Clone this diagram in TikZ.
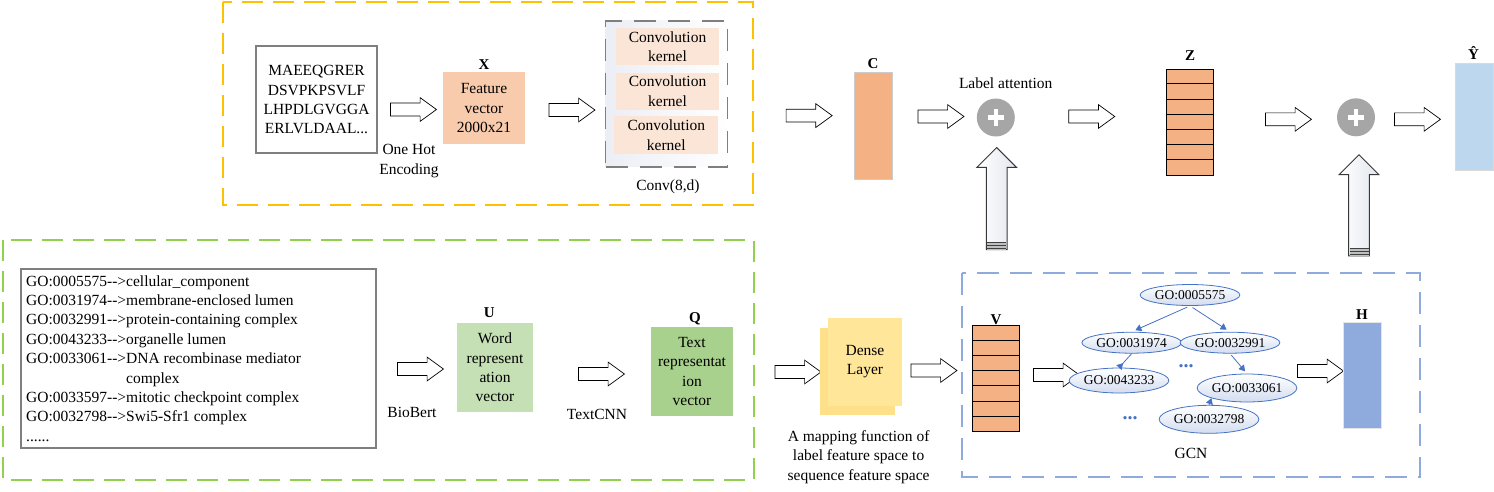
\documentclass[tikz,border=0pt]{standalone}
\usepackage{fontspec}
\setmainfont{Liberation Serif}
\usetikzlibrary{shapes.arrows,shapes.geometric,arrows.meta,calc}
\definecolor{ygold}{HTML}{FFC000}
\definecolor{ggreen}{HTML}{92D050}
\definecolor{bdash}{HTML}{8FAADC}
\definecolor{peach}{HTML}{F8CBAD}
\definecolor{kern}{HTML}{FBE5D6}
\definecolor{orng}{HTML}{F4B183}
\definecolor{lblue}{HTML}{BDD7EE}
\definecolor{mblue}{HTML}{8FAADC}
\definecolor{lgreen}{HTML}{C5E0B4}
\definecolor{mgreen}{HTML}{A9D18E}
\definecolor{dyel}{HTML}{FFE699}
\definecolor{dyelb}{HTML}{FFE08A}
\definecolor{gblue}{HTML}{4472C4}
\definecolor{pgray}{HTML}{A6A6A6}
\definecolor{boxgray}{HTML}{7F7F7F}
\definecolor{shaftr}{HTML}{E2E6EF}
\definecolor{convl}{HTML}{ECEEF5}
\definecolor{ellb}{HTML}{D3DDF0}
\newcommand{\goarr}{-{}-{}>}
\begin{document}
\begin{tikzpicture}[x=1pt,y=-1pt,
  every node/.style={inner sep=0pt, font=\fontsize{15.5}{19.4}\selectfont},
  lbl/.style={font=\bfseries\fontsize{15}{15}\selectfont},
  frame/.style={line width=1.8pt, dash pattern=on 21pt off 10pt},
  harrow/.style={single arrow, draw=black, line width=0.7pt, fill=white, inner sep=6.1pt,
    minimum height=46, minimum width=23, single arrow head extend=5.4,
    single arrow tip angle=72},
  varrow/.style={single arrow, shape border rotate=90, draw=black!78, line width=1pt,
    left color=white, right color=shaftr, inner sep=9.8pt,
    minimum height=101, minimum width=39, single arrow head extend=9.5,
    single arrow tip angle=90},
  plusc/.style={circle, fill=pgray, minimum size=38},
  gonode/.style={ellipse, draw=gblue, line width=0.8pt, top color=white, bottom color=ellb,
    font=\fontsize{13.5}{13.5}\selectfont},
  gedge/.style={draw=gblue, line width=0.8pt, -{Triangle[length=6pt,width=7pt]}},
  gline/.style={anchor=base west}
]
\useasboundingbox (0,0) rectangle (1494,491);

% ---------- frames ----------
\draw[frame, ygold] (223,2) rectangle (753,205);
\draw[frame, ggreen] (3,240) rectangle (754,480);
\draw[frame, bdash, dash pattern=on 22pt off 11pt] (962,273) rectangle (1420,477);

% ---------- top row ----------
\node[draw=boxgray, line width=1.8pt, minimum width=121, minimum height=107, align=center]
  (seq) at (316.5,99.7) {MAEEQGRER\\DSVPKPSVLF\\LHPDLGVGGA\\ERLVLDAAL...};
\node[harrow] (a1) at (409,109.5) {};
\node[align=center] (onehot) at (409,161) {One Hot\\Encoding};
\node[lbl] (xl) at (484,65) {X};
\node[fill=peach, minimum width=82, minimum height=72, align=center]
  (feat) at (484,108.3) {Feature\\vector\\2000x21};
\node[harrow] (a2) at (567.5,110) {};

\node[draw=boxgray, line width=1.8pt, dash pattern=on 22pt off 12pt, left color=convl, right color=white,
  minimum width=122, minimum height=146] (conv) at (666.5,93.7) {};
\node[fill=kern, minimum width=103, minimum height=37, align=center] (k1) at (667.5,46.7) {Convolution\\kernel};
\node[fill=kern, minimum width=103, minimum height=37, align=center] (k2) at (667.5,91.3) {Convolution\\kernel};
\node[fill=kern, minimum width=104, minimum height=38, align=center] (k3) at (666.3,135) {Convolution\\kernel};
\node (convl) at (668,187) {Conv(8,d)};

\node[harrow] (a3) at (804.7,115.6) {};
\node[lbl] (cl) at (873,64) {C};
\node[fill=orng, draw=black!20, line width=0.8pt, minimum width=38, minimum height=106.6] (cbox) at (873,126) {};
\node[harrow] (a4) at (936.5,116.5) {};
\node (latt) at (1005.7,83) {Label attention};
\node[plusc] (p1) at (995.8,117.5) {};
\draw[white, line width=4.5pt] ($(p1)+(-8.3,0)$) -- ($(p1)+(8.3,0)$);
\draw[white, line width=4.5pt] ($(p1)+(0,-8.3)$) -- ($(p1)+(0,8.3)$);
\node[harrow] (a5) at (1087.3,116.5) {};

\node[lbl] (zl) at (1190,56) {Z};
\node[fill=orng, draw=black, line width=0.9pt, minimum width=47, minimum height=106] (zbox) at (1190.3,122.2) {};
\foreach \k in {1,...,6}{
  \draw[black, line width=0.9pt] ($(zbox.north west)+(0,\k*15.14)$) -- ($(zbox.north east)+(0,\k*15.14)$);
}
\node[harrow] (a6) at (1284,119.3) {};
\node[plusc] (p2) at (1356,117.3) {};
\draw[white, line width=4.5pt] ($(p2)+(-8.3,0)$) -- ($(p2)+(8.3,0)$);
\draw[white, line width=4.5pt] ($(p2)+(0,-8.3)$) -- ($(p2)+(0,8.3)$);
\node[harrow] (a7) at (1413,119.3) {};
\node[lbl] (yl) at (1473.5,53) {Ŷ};
\node[fill=lblue, draw=black!15, line width=0.8pt, minimum width=38, minimum height=107] (ybox) at (1474,116.7) {};

% ---------- vertical arrows ----------
\node[varrow, minimum height=102] (va) at (996.7,203.7) {};
\node[varrow, minimum height=101] (vb) at (1359,210.4) {};
\foreach \n in {va,vb}{
  \fill[black!25] ($(\n.tail)+(-9.5,-8)$) rectangle ($(\n.tail)+(9.5,0)$);
  \foreach \d in {8,5,2}{
    \draw[black!75, line width=0.9pt] ($(\n.tail)+(-9.5,-\d)$) -- ($(\n.tail)+(9.5,-\d)$);
  }
}

% ---------- bottom left ----------
\node[draw=boxgray, line width=1.8pt, minimum width=355, minimum height=179] (golist) at (198.4,358.5) {};
\node[gline] (g1) at (26,286) {GO:0005575\goarr cellular\_component};
\node[gline] (g2) at (26,305.4) {GO:0031974\goarr membrane-enclosed lumen};
\node[gline] (g3) at (26,324.8) {GO:0032991\goarr protein-containing complex};
\node[gline] (g4) at (26,344.2) {GO:0043233\goarr organelle lumen};
\node[gline] (g5) at (26,363.6) {GO:0033061\goarr DNA recombinase mediator};
\node[gline] (g6) at (126,383) {complex};
\node[gline] (g7) at (26,402.4) {GO:0033597\goarr mitotic checkpoint complex};
\node[gline] (g8) at (26,421.8) {GO:0032798\goarr Swi5-Sfr1 complex};
\node[gline] (g9) at (26,441.2) {......};

\node[harrow] (b1) at (416,369) {};
\node (biob) at (412,412) {BioBert};
\node[lbl] (ul) at (489.3,313) {U};
\node[fill=lgreen, minimum width=76, minimum height=89, align=center] (ubox) at (495,367.5) {Word\\represent\\ation\\vector};
\node[harrow] (b2) at (597,374) {};
\node (tcnn) at (597,414) {TextCNN};
\node[lbl] (ql) at (695,319) {Q};
\node[fill=mgreen, minimum width=82, minimum height=89, align=center] (qbox) at (692,371.5) {Text\\representat\\ion\\vector};

% ---------- bottom right ----------
\node[harrow] (b3) at (793.5,372) {};
\node[fill=dyelb, minimum width=75, minimum height=87.3] (dback) at (857.2,371.4) {};
\node[fill=dyel, minimum width=74, minimum height=88, align=center] (dense) at (865,361.7) {Dense\\Layer};
\node[align=center] (mapt) at (858.6,457) {A mapping function of\\label feature space to\\sequence feature space};
\node[harrow] (b4) at (929.5,370.5) {};

\node[lbl] (vl) at (996,320) {V};
\node[fill=orng, draw=black, line width=0.9pt, minimum width=47, minimum height=106] (vbox) at (996.2,378.7) {};
\foreach \k in {1,...,6}{
  \draw[black, line width=0.9pt] ($(vbox.north west)+(0,\k*15.14)$) -- ($(vbox.north east)+(0,\k*15.14)$);
}
\node[harrow] (b5) at (1052,375) {};

\node[gonode, minimum width=95, minimum height=21] (E1) at (1190,295) {GO:0005575};
\node[gonode, minimum width=93, minimum height=21] (E2) at (1131.7,342.7) {GO:0031974};
\node[gonode, minimum width=94, minimum height=21] (E3) at (1230,342.7) {GO:0032991};
\node[gonode, minimum width=94, minimum height=25] (E4) at (1119,380.5) {GO:0043233};
\node[gonode, minimum width=93, minimum height=28] (E5) at (1247,388) {GO:0033061};
\node[gonode, minimum width=95, minimum height=28] (E6) at (1209,419.3) {GO:0032798};
\draw[gedge, shorten <=3pt, shorten >=4pt] (E1.south) -- (E2.north);
\draw[gedge, shorten <=3pt, shorten >=4pt] (E1.south) -- (E3.north);
\draw[gedge, shorten <=2pt, shorten >=3pt] (E3.south) -- (E5.north);
\draw[draw=gblue, line width=0.8pt, -{Triangle[length=6pt,width=7pt,reversed]}] (E2.south) -- (E4.north);
\draw[gedge] (E6.north) -- (E5.south west);
\node[text=gblue, font=\bfseries\fontsize{20}{20}\selectfont] (dots1) at (1186,366) {...};
\node[text=gblue, font=\bfseries\fontsize{20}{20}\selectfont] (dots2) at (1130,418) {...};
\node (gcn) at (1191,453) {GCN};

\node[harrow] (b6) at (1316,371) {};
\node[lbl] (hl) at (1362,315) {H};
\node[fill=mblue, draw=black!10, line width=0.6pt, minimum width=37.4, minimum height=106] (hbox) at (1362.3,375) {};
\end{tikzpicture}
\end{document}
